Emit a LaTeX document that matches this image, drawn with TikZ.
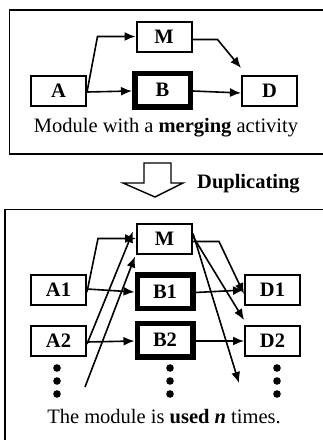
\documentclass[tikz,border=0pt]{standalone}
\usepackage{fontspec}
\setmainfont{Liberation Serif}
\usetikzlibrary{arrows.meta,calc}
\begin{document}
\begin{tikzpicture}[x=1pt,y=-1pt,
  lbl/.style={font=\fontsize{20.5}{22}\selectfont, inner sep=0pt},
  box/.style={draw, line width=2pt, minimum width=55pt, minimum height=30pt, inner sep=0pt, font=\bfseries\fontsize{20.5}{20.5}\selectfont},
  thickbox/.style={box, line width=5.5pt, minimum width=55.5pt, minimum height=33.5pt},
  arr/.style={line width=1.6pt, -{Latex[length=11pt,width=9pt]}},
  frame/.style={line width=1.6pt}]
\clip (0,0) rectangle (323,440);
\fill[white] (0,0) rectangle (323,440);
% frames
\draw[frame] (9.5,10) rectangle (330,154);
\draw[frame] (5,209.5) rectangle (330,450);
% top module
\node[box] (A) at (58.5,91) {A};
\node[box] (M) at (164,36.5) {M};
\node[thickbox] (B) at (162.5,90) {B};
\node[box] (D) at (269.5,91) {D};
\node[lbl] (cap1) at (166,128) {Module with a \textbf{merging} activity};
\draw[arr] ([yshift=-1pt]A.east) -- ([xshift=-38pt]M.west) -- (M.west);
\draw[arr] ([yshift=-1pt]A.east) -- ([yshift=-1pt]B.west);
\draw[arr] ([yshift=-1pt]B.east) -- ([yshift=-2pt]D.west);
\draw[arr] ([yshift=-3pt]M.east) -- ([shift={(25pt,-3pt)}]M.east) -- ([yshift=7pt]D.north west);
% duplicating arrow
\draw[line width=1.4pt, fill=white] (144,163) -- (171,163) -- (171,183) -- (183,183) -- (155,197) -- (123,183) -- (144,183) -- cycle;
\node[font=\bfseries\fontsize{20.5}{20.5}\selectfont, anchor=west, inner sep=0pt] (dup) at (197,184) {Duplicating};
% bottom module
\node[box] (M2) at (164.5,238.5) {M};
\node[box] (A1) at (58.5,290) {A1};
\node[thickbox] (B1) at (165,291.5) {B1};
\node[box] (D1) at (272.5,290) {D1};
\node[box] (A2) at (58.5,341) {A2};
\node[thickbox] (B2) at (165,340) {B2};
\node[box] (D2) at (272.5,341) {D2};
\coordinate (f1) at (85,387);
\coordinate (f2) at (239,383);
\draw[arr] ([yshift=-2pt]A1.east) -- ([xshift=-38pt]M2.west) -- (M2.west);
\draw[arr] ([yshift=1pt]A1.east) -- ([yshift=-0.5pt]B1.west);
\draw[arr] ([yshift=-1pt]B1.east) -- (D1.west);
\draw[arr] ([yshift=-1pt]A2.east) -- ([yshift=-1pt]B2.west);
\draw[arr] ([yshift=-1pt]B2.east) -- (D2.west);
\draw[arr] ([yshift=-3pt]A2.east) -- ([shift={(-3pt,7pt)}]M2.west);
\draw[arr] (f1) -- ([shift={(-1pt,-2pt)}]M2.south west);
\draw[arr] ([yshift=-3pt]M2.east) -- ([shift={(26pt,-3pt)}]M2.east) -- ([yshift=-4pt]D1.west);
\draw[arr] ([yshift=2pt]M2.east) -- ([yshift=5pt]D2.north west);
\draw[arr] ([yshift=5pt]M2.east) -- (f2);
% continuation dots
\foreach \x in {57,170,277}
  \foreach \y in {368,381,394}
    \fill (\x,\y) circle (3.8pt);
\node[lbl] (cap2) at (164,417) {The module is \textbf{used} \textbf{\textit{n}} times.};
\end{tikzpicture}
\end{document}
